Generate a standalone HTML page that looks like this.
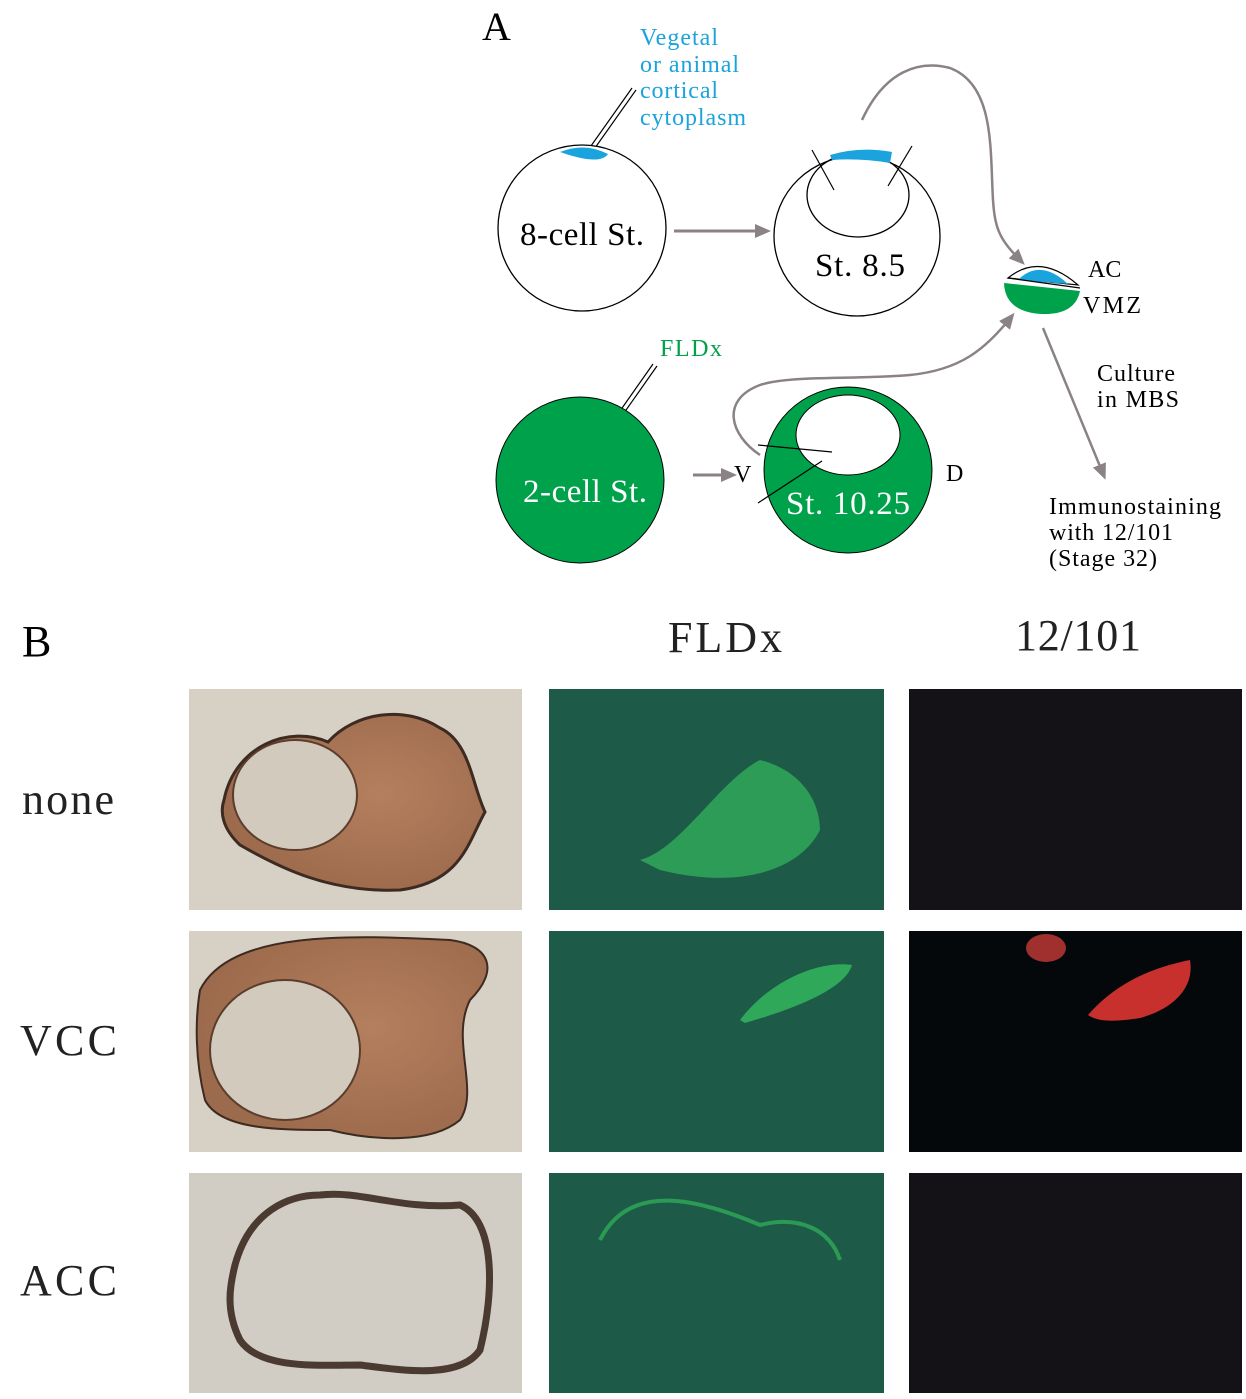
<!DOCTYPE html>
<html><head><meta charset="utf-8"><style>
html,body{margin:0;padding:0;background:#fff;}
svg{display:block;}
text{font-family:"Liberation Serif",serif;}
</style></head><body>
<svg width="1246" height="1399" viewBox="0 0 1246 1399" xmlns="http://www.w3.org/2000/svg">
<defs>
<marker id="ah" markerWidth="16" markerHeight="14" refX="12" refY="7" orient="auto" markerUnits="userSpaceOnUse"><path d="M0,0 L16,7 L0,14 z" fill="#8a8285"/></marker>
<radialGradient id="tis" cx="0.6" cy="0.45" r="0.6"><stop offset="0" stop-color="#b47f5e"/><stop offset="1" stop-color="#9c6a4c"/></radialGradient>
</defs>
<text x="482" y="40" font-size="40">A</text>
<text x="640" y="45" font-size="24" fill="#1aa3dc" textLength="78">Vegetal</text>
<text x="640" y="72" font-size="24" fill="#1aa3dc" textLength="99">or animal</text>
<text x="640" y="98" font-size="24" fill="#1aa3dc" textLength="78">cortical</text>
<text x="640" y="125" font-size="24" fill="#1aa3dc" textLength="106">cytoplasm</text>
<line x1="636" y1="90" x2="590" y2="155" stroke="#000" stroke-width="1.2"/>
<line x1="632" y1="88" x2="586" y2="153" stroke="#000" stroke-width="1.2"/>
<ellipse cx="582" cy="228" rx="84" ry="83" fill="#fff" stroke="#000" stroke-width="1.3"/>
<path d="M560,152 Q585,142 608,154 Q600,166 560,152 z" fill="#1aa3dc"/>
<text x="582" y="245" font-size="33" text-anchor="middle" textLength="124">8-cell St.</text>
<line x1="674" y1="231" x2="767" y2="231" stroke="#8a8285" stroke-width="3" marker-end="url(#ah)"/>
<ellipse cx="857" cy="236" rx="83" ry="80" fill="#fff" stroke="#000" stroke-width="1.3"/>
<ellipse cx="858" cy="195" rx="51" ry="42" fill="none" stroke="#000" stroke-width="1.3"/>
<path d="M830,155 Q860,146 892,152 L890,163 Q860,158 832,160 z" fill="#1aa3dc"/>
<line x1="812" y1="150" x2="834" y2="190" stroke="#000" stroke-width="1.2"/>
<line x1="912" y1="146" x2="888" y2="186" stroke="#000" stroke-width="1.2"/>
<text x="860" y="276" font-size="33" text-anchor="middle" textLength="90">St. 8.5</text>
<path d="M862,120 C885,70 920,60 950,68 C995,85 990,150 993,200 C995,230 1000,240 1022,262" fill="none" stroke="#8a8285" stroke-width="2.5" marker-end="url(#ah)"/>
<path d="M1008,278 Q1040,252 1078,285 L1008,278 z" fill="#fff" stroke="#000" stroke-width="1.2"/>
<path d="M1018,280 Q1040,258 1068,284 z" fill="#1aa3dc"/>
<path d="M1004,283 L1080,291 Q1075,315 1042,314 Q1005,312 1004,283 z" fill="#00a14b"/>
<line x1="1008" y1="278" x2="1080" y2="288" stroke="#000" stroke-width="1.2"/>
<text x="1088" y="277" font-size="24">AC</text>
<text x="1083" y="313" font-size="24" textLength="58">VMZ</text>
<line x1="1043" y1="328" x2="1104" y2="476" stroke="#8a8285" stroke-width="2.5" marker-end="url(#ah)"/>
<text x="1097" y="381" font-size="24" textLength="78">Culture</text>
<text x="1097" y="407" font-size="24" textLength="82">in MBS</text>
<text x="1049" y="514" font-size="24" textLength="172">Immunostaining</text>
<text x="1049" y="540" font-size="24" textLength="124">with 12/101</text>
<text x="1049" y="566" font-size="24" textLength="108">(Stage 32)</text>
<text x="660" y="356" font-size="24" fill="#00a14b" textLength="62">FLDx</text>
<line x1="657" y1="366" x2="612" y2="430" stroke="#000" stroke-width="1.2"/>
<line x1="653" y1="364" x2="608" y2="428" stroke="#000" stroke-width="1.2"/>
<ellipse cx="580" cy="480" rx="84" ry="83" fill="#00a14b" stroke="#000" stroke-width="1"/>
<text x="585" y="502" font-size="33" text-anchor="middle" fill="#fff" textLength="124">2-cell St.</text>
<line x1="693" y1="475" x2="733" y2="475" stroke="#8a8285" stroke-width="3" marker-end="url(#ah)"/>
<text x="734" y="482" font-size="24">V</text>
<ellipse cx="848" cy="470" rx="84" ry="83" fill="#00a14b" stroke="#000" stroke-width="1"/>
<ellipse cx="848" cy="435" rx="52" ry="40" fill="#fff" stroke="#000" stroke-width="1"/>
<line x1="758" y1="445" x2="832" y2="452" stroke="#000" stroke-width="1.2"/>
<line x1="758" y1="503" x2="822" y2="461" stroke="#000" stroke-width="1.2"/>
<text x="848" y="514" font-size="33" text-anchor="middle" fill="#fff" textLength="124">St. 10.25</text>
<text x="946" y="481" font-size="24">D</text>
<path d="M760,455 C730,435 720,400 760,385 C790,375 850,380 910,375 C960,370 985,350 1012,316" fill="none" stroke="#8a8285" stroke-width="2.5" marker-end="url(#ah)"/>
<text x="22" y="656" font-size="44">B</text>
<text x="668" y="652" font-size="44" fill="#222" textLength="114">FLDx</text>
<text x="1015" y="650" font-size="44" fill="#222" textLength="126">12/101</text>
<text x="22" y="814" font-size="44" fill="#222" textLength="92">none</text>
<text x="20" y="1055" font-size="44" fill="#222" textLength="97">VCC</text>
<text x="20" y="1295" font-size="44" fill="#222" textLength="97">ACC</text>
<!-- row 1 -->
<rect x="189" y="689" width="333" height="221" fill="#d6d1c4"/>
<path d="M224,800 C235,745 290,725 328,742 C355,712 405,705 440,728 C470,742 472,785 485,812 C468,842 462,882 400,890 C330,893 280,868 240,845 C222,828 220,812 224,800 z" fill="url(#tis)" stroke="#3d2a20" stroke-width="3"/>
<ellipse cx="295" cy="795" rx="62" ry="55" fill="#d2cabd" stroke="#5a3d2c" stroke-width="2"/>
<rect x="549" y="689" width="335" height="221" fill="#1e5a48"/>
<path d="M640,860 C680,850 720,780 760,760 C800,770 820,800 820,830 C800,870 740,890 660,870 z" fill="#2fa85a" opacity="0.85"/>
<rect x="909" y="689" width="333" height="221" fill="#141117"/>
<!-- row 2 -->
<rect x="189" y="931" width="333" height="221" fill="#d6d1c4"/>
<path d="M200,990 C230,930 350,935 450,940 C490,945 500,970 470,1000 C450,1040 480,1090 460,1120 C430,1145 370,1140 330,1130 C280,1130 220,1130 205,1100 C195,1060 195,1020 200,990 z" fill="url(#tis)" stroke="#3d2a20" stroke-width="2"/>
<ellipse cx="285" cy="1050" rx="75" ry="70" fill="#d2cabd" stroke="#5a3d2c" stroke-width="2"/>
<rect x="549" y="931" width="335" height="221" fill="#1e5a48"/>
<path d="M740,1020 C770,980 820,960 852,965 C845,990 790,1010 745,1023 z" fill="#2fa85a"/>
<rect x="909" y="931" width="333" height="221" fill="#05080a"/>
<path d="M1088,1015 C1110,990 1140,970 1190,960 C1195,990 1170,1010 1140,1018 C1115,1022 1098,1022 1088,1015 z" fill="#c8302e"/>
<ellipse cx="1046" cy="948" rx="20" ry="14" fill="#a0302e"/>
<!-- row 3 -->
<rect x="189" y="1173" width="333" height="220" fill="#d2cdc4"/>
<path d="M235,1265 C250,1210 290,1195 320,1195 C360,1190 400,1210 460,1205 C495,1220 495,1290 480,1350 C460,1380 400,1370 360,1365 C320,1365 260,1370 240,1340 C225,1310 230,1285 235,1265 z" fill="none" stroke="#4a3a30" stroke-width="7"/>
<rect x="549" y="1173" width="335" height="220" fill="#1e5a48"/>
<path d="M600,1240 C630,1180 700,1200 760,1225 C800,1215 830,1230 840,1260" fill="none" stroke="#2a9a55" stroke-width="4"/>
<rect x="909" y="1173" width="333" height="220" fill="#141117"/>
</svg>
</body></html>
